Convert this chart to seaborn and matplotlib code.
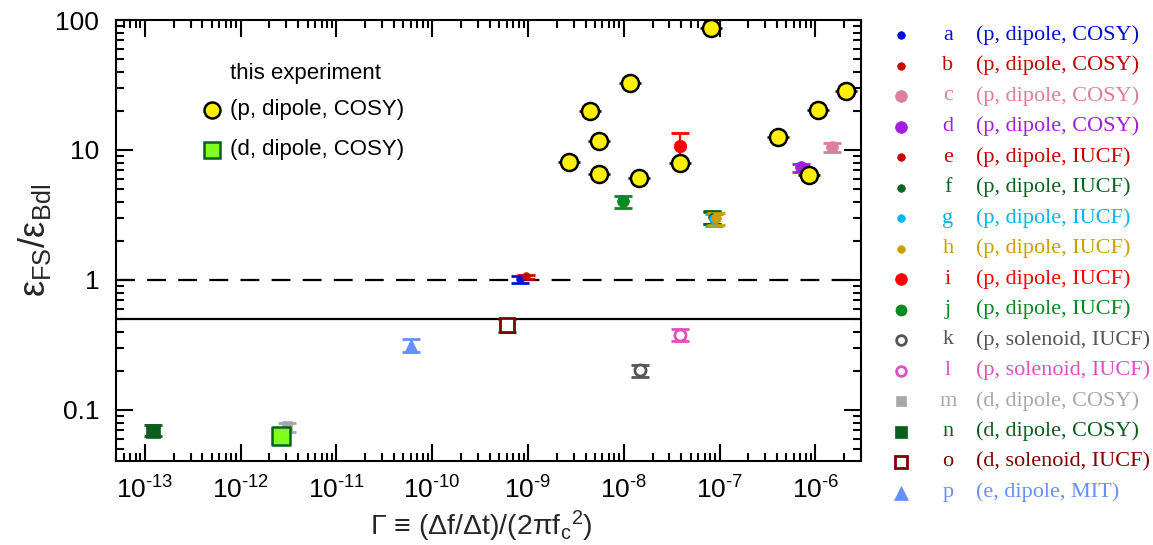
import numpy as np
import pandas as pd
import matplotlib
matplotlib.use("Agg")
import matplotlib.pyplot as plt
import seaborn as sns

# ---------------- data ----------------
# this experiment
exp_p_x = [2.67e-9, 4.43e-9, 5.50e-9, 5.58e-9, 1.175e-8, 1.46e-8, 3.90e-8,
           8.2e-8, 4.05e-7, 8.6e-7, 1.057e-6, 2.09e-6]
exp_p_y = [8.13, 20.0, 11.7, 6.53, 32.6, 6.12, 7.98, 86.8, 12.5, 6.46, 20.3, 28.5]
exp_d_x = [2.65e-12]
exp_d_y = [0.0634]

# previous measurements
ref_letters = list("abcdefghijklmnop")
ref_desc = ["(p, dipole, COSY)", "(p, dipole, COSY)", "(p, dipole, COSY)",
            "(p, dipole, COSY)", "(p, dipole, IUCF)", "(p, dipole, IUCF)",
            "(p, dipole, IUCF)", "(p, dipole, IUCF)", "(p, dipole, IUCF)",
            "(p, dipole, IUCF)", "(p, solenoid, IUCF)", "(p, solenoid, IUCF)",
            "(d, dipole, COSY)", "(d, dipole, COSY)", "(d, solenoid, IUCF)",
            "(e, dipole, MIT)"]
ref_x = [8.26e-10, 9.46e-10, 1.49e-6, 7.1e-7, 8.26e-8, 8.26e-8, 8.66e-8, 9.08e-8,
         3.9e-8, 9.84e-9, 1.47e-8, 3.83e-8, 3.06e-12, 1.22e-13, 6.1e-10, 6.0e-11]
ref_y = [1.012, 1.07, 10.6, 7.4, 3.0, 3.05, 2.95, 3.0,
         10.8, 4.03, 0.203, 0.377, 0.0757, 0.069, 0.45, 0.31]
ref_ylo = [0.944, 1.02, 9.7, 6.8, 2.7, 2.7, 2.6, 2.65,
           7.8, 3.58, 0.18, 0.34, 0.0682, 0.0634, 0.40, 0.28]
ref_yhi = [1.074, 1.09, 11.4, 7.8, 3.32, 3.37, 3.22, 3.30,
           13.6, 4.45, 0.22, 0.42, 0.0796, 0.0767, 0.50, 0.35]

x_tick_exponents = [-13, -12, -11, -10, -9, -8, -7, -6]
y_ticks = [0.1, 1, 10, 100]
y_tick_labels = ["0.1", "1", "10", "100"]
ref_lines = [1.0, 0.5]

# ---------------- styles ----------------
ref_colors = ["#0010d8", "#c80000", "#dc809a", "#a020e0", "#c80000", "#0a6420",
              "#00b4f0", "#c8a000", "#ff0000", "#008a20", "#555555", "#e050c0",
              "#a8a8a8", "#0b5e1e", "#800000", "#6690ff"]
ref_markers = ["o"] * 12 + ["s", "s", "s", "^"]
ref_ms = [5.5, 5.5, 8.5, 8.5, 5.0, 5.5, 7.0, 7.0, 9.0, 8.5, 8.0, 8.0, 7.0, 9.5, 9.5, 10.5]
leg_ms = [5.5, 5.5, 8.5, 8.5, 5.5, 5.5, 5.5, 5.5, 8.5, 8.0, 7.0, 7.0, 7.5, 8.5, 8.0, 9.5]
ref_open = [False] * 10 + [True, True, False, False, True, False]

sns.set_theme(style="ticks")
plt.rcParams.update({
    "font.family": ["Liberation Sans", "DejaVu Sans"],
    "mathtext.fontset": "custom",
    "mathtext.rm": "Liberation Sans",
    "mathtext.it": "Liberation Sans:italic",
    "mathtext.bf": "Liberation Sans:bold",
    "mathtext.sf": "Liberation Sans",
    "axes.unicode_minus": False,
    "axes.linewidth": 1.5,
    "axes.edgecolor": "black",
})

W, H = 1153, 545
fig = plt.figure(figsize=(W / 100, H / 100), dpi=100)
ax = fig.add_axes([116 / W, (H - 461) / H, (861 - 116) / W, (461 - 20) / H])
ax.set_xscale("log")
ax.set_yscale("log")
ax.set_xlim(5e-14, 3e-6)
ax.set_ylim(0.0405, 100)

# horizontal reference lines
ax.axhline(ref_lines[0], color="black", lw=1.6, ls=(0, (8.5, 5.5)), zorder=1)
ax.axhline(ref_lines[1], color="black", lw=1.6, zorder=1)

# previous measurements
for i in range(len(ref_letters)):
    c = ref_colors[i]
    yerr = [[ref_y[i] - ref_ylo[i]], [ref_yhi[i] - ref_y[i]]]
    ax.errorbar([ref_x[i]], [ref_y[i]], yerr=yerr, fmt="none", ecolor=c,
                elinewidth=1.6, capsize=6.8, capthick=2.0, zorder=2 + i * 0.01)
    ax.plot([ref_x[i]], [ref_y[i]], marker=ref_markers[i], ms=ref_ms[i],
            color=c, mfc="white" if ref_open[i] else c, mec=c,
            mew=2.0 if ref_open[i] else 0.5, ls="none", zorder=3 + i * 0.01)

# this experiment
exp_p = pd.DataFrame({"x": exp_p_x, "y": exp_p_y})
exp_d = pd.DataFrame({"x": exp_d_x, "y": exp_d_y})
xerr_fac = 10 ** 0.115
ax.errorbar(exp_p["x"], exp_p["y"],
            xerr=[exp_p["x"] - exp_p["x"] / xerr_fac, exp_p["x"] * xerr_fac - exp_p["x"]],
            fmt="none", ecolor="black", elinewidth=1.8, capsize=0, zorder=4)
sns.scatterplot(data=exp_p, x="x", y="y", ax=ax, marker="o", s=150,
                color="#fff000", edgecolor="black", linewidth=1.8, zorder=5)
sns.scatterplot(data=exp_d, x="x", y="y", ax=ax, marker="s", s=175,
                color="#80ff20", edgecolor="#0a5e1e", linewidth=1.8, zorder=5)

# axes cosmetics
ax.set_xticks([10.0 ** e for e in x_tick_exponents],
              labels=[r"$\mathdefault{10^{\text{%d}}}$" % e for e in x_tick_exponents])
ax.set_yticks(y_ticks, labels=y_tick_labels)
ax.tick_params(which="both", direction="in", top=True, right=True, width=1.5,
               colors="black")
ax.tick_params(which="major", length=12)
ax.tick_params(which="minor", length=5.5)
ax.tick_params(axis="x", which="major", labelsize=19, pad=11)
ax.tick_params(axis="y", which="major", labelsize=19, pad=12)
for s in ax.spines.values():
    s.set_linewidth(1.5)
    s.set_color("black")

ax.set_xlabel("Γ ≡ (Δf/Δt)/(2πf$_{\\rm c}$$^{2}$)", fontsize=20.5)
ax.xaxis.set_label_coords(0.49, -0.108)
ax.set_ylabel(r"$\mathrm{ε}_{\mathrm{FS}}/\mathrm{ε}_{\mathrm{Bdl}}$", fontsize=26)
ax.yaxis.set_label_coords((53 - 116) / 745, 0.5)

# overlay in pixel coordinates for the legends
ov = fig.add_axes([0, 0, 1, 1], zorder=10)
ov.set_xlim(0, W)
ov.set_ylim(H, 0)
ov.axis("off")

# in-plot legend (this experiment)
ov.text(305, 74, "this experiment", fontsize=16, ha="center", va="center",
        color="black")
ov.plot([212], [110], marker="o", ms=11.5, mfc="#fff000", mec="black", mew=1.8)
ov.text(230, 110, "(p, dipole, COSY)", fontsize=16, ha="left", va="center",
        color="black")
ov.plot([212], [150], marker="s", ms=11.5, mfc="#80ff20", mec="#0a5e1e", mew=1.8)
ov.text(230, 150, "(d, dipole, COSY)", fontsize=16, ha="left", va="center",
        color="black")

# right legend
for i in range(len(ref_letters)):
    yy = 35 + i * 30.5
    c = ref_colors[i]
    ov.plot([901], [yy], marker=ref_markers[i], ms=leg_ms[i], color=c,
            mfc="white" if ref_open[i] else c, mec=c,
            mew=2.0 if ref_open[i] else 0.5, ls="none", clip_on=False)
    ov.text(948, yy, ref_letters[i], fontsize=16, ha="center", va="center",
            color=c, family=["Liberation Serif"])
    ov.text(976, yy, ref_desc[i], fontsize=16, ha="left", va="center",
            color=c, family=["Liberation Serif"])

fig.savefig("out.png", dpi=100)
